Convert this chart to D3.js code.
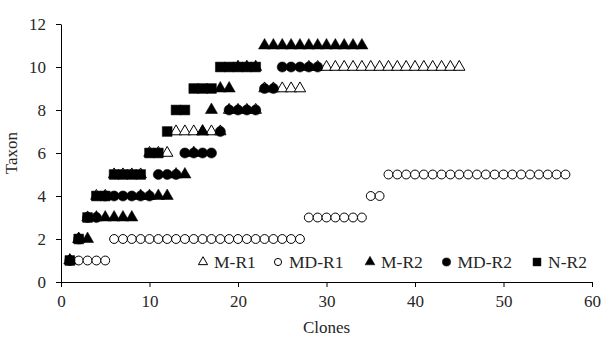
<!DOCTYPE html>
<html>
<head>
<meta charset="utf-8">
<script src="https://cdn.jsdelivr.net/npm/d3@7"></script>
<style>
  body { margin: 0; background: #fff; }
  text { font-family: "Liberation Serif", "Times New Roman", serif; fill: #262626; }
</style>
</head>
<body>
<div id="chart"></div>
<script>
// taxon count for clone 1..N of each library
const mR1 = [1, 2, 3, 4, 4, 5, 5, 5, 5, 6, 6, 6, 7, 7, 7, 7, 7, 7, 8, 8, 8, 8, 9, 9, 9, 9, 9,
  10, 10, 10, 10, 10, 10, 10, 10, 10, 10, 10, 10, 10, 10, 10, 10, 10, 10];
const mdR1 = [1, 1, 1, 1, 1, 2, 2, 2, 2, 2, 2, 2, 2, 2, 2, 2, 2, 2, 2, 2, 2, 2, 2, 2, 2, 2, 2,
  3, 3, 3, 3, 3, 3, 3, 4, 4, 5, 5, 5, 5, 5, 5, 5, 5, 5, 5, 5, 5, 5, 5, 5, 5, 5, 5, 5, 5, 5];
const mR2 = [1, 2, 2, 3, 3, 3, 3, 3, 4, 4, 4, 4, 5, 5, 6, 7, 8, 9, 9, 10, 10, 10,
  11, 11, 11, 11, 11, 11, 11, 11, 11, 11, 11, 11];
const mdR2 = [1, 2, 3, 3, 4, 4, 4, 4, 4, 4, 5, 5, 5, 6, 6, 6, 6, 7, 8, 8, 8, 8, 9, 9,
  10, 10, 10, 10, 10];
const nR2 = [1, 2, 3, 4, 4, 5, 5, 5, 5, 6, 6, 7, 8, 8, 9, 9, 9, 10, 10, 10, 10, 10];

const seriesNames = ["M-R1", "MD-R1", "M-R2", "MD-R2", "N-R2"];
const xTicks = [0, 10, 20, 30, 40, 50, 60];
const yTicks = [0, 2, 4, 6, 8, 10, 12];

const series = [
  { name: seriesNames[0], values: mR1, shape: d3.symbolTriangle, size: 56, open: true },
  { name: seriesNames[1], values: mdR1, shape: d3.symbolCircle, size: 62, open: true },
  { name: seriesNames[2], values: mR2, shape: d3.symbolTriangle, size: 64, open: false },
  { name: seriesNames[3], values: mdR2, shape: d3.symbolCircle, size: 82, open: false },
  { name: seriesNames[4], values: nR2, shape: d3.symbolSquare, size: 96, open: false }
];

const width = 602, height = 338;
const margin = { top: 24, right: 10, bottom: 56, left: 61 };

const svg = d3.select("#chart").append("svg")
  .attr("width", width)
  .attr("height", height);

const x = d3.scaleLinear().domain([0, 60]).range([margin.left, 592]);
const y = d3.scaleLinear().domain([0, 12]).range([282, margin.top]);

// axes
const xAxis = svg.append("g")
  .attr("transform", "translate(0,282)")
  .call(d3.axisBottom(x).tickValues(xTicks).tickSize(5).tickPadding(8).tickSizeOuter(0));
const yAxis = svg.append("g")
  .attr("transform", "translate(" + margin.left + ",0)")
  .call(d3.axisLeft(y).tickValues(yTicks).tickSize(5).tickPadding(10).tickSizeOuter(0));

[xAxis, yAxis].forEach(a => {
  a.select(".domain").attr("stroke", "#000").attr("stroke-width", 1);
  a.selectAll(".tick line").attr("stroke", "#000");
  a.selectAll(".tick text")
    .style("font-family", '"Liberation Serif", "Times New Roman", serif')
    .style("font-size", "17px")
    .attr("fill", "#262626");
});

// axis titles
svg.append("text")
  .attr("x", (x(0) + x(60)) / 2)
  .attr("y", 333)
  .attr("text-anchor", "middle")
  .style("font-size", "17px")
  .text("Clones");
svg.append("text")
  .attr("transform", "translate(17,153) rotate(-90)")
  .attr("text-anchor", "middle")
  .style("font-size", "17px")
  .text("Taxon");

// markers, drawn in legend order so later series sit on top
series.forEach(s => {
  const sym = d3.symbol().type(s.shape).size(s.size);
  svg.append("g")
    .selectAll("path")
    .data(s.values.map((v, i) => ({ clone: i + 1, taxon: v })))
    .enter()
    .append("path")
    .attr("d", sym)
    .attr("transform", d => "translate(" + x(d.clone) + "," + y(d.taxon) + ")")
    .attr("fill", s.open ? "#fff" : "#000")
    .attr("stroke", "#000")
    .attr("stroke-width", s.open ? 1 : 0.5);
});

// legend
const legendX = [203, 278, 370, 446.5, 537];
const legend = svg.append("g");
series.forEach((s, i) => {
  const g = legend.append("g").attr("transform", "translate(" + legendX[i] + ",262)");
  g.append("path")
    .attr("d", d3.symbol().type(s.shape).size(s.size * 0.65))
    .attr("fill", s.open ? "#fff" : "#000")
    .attr("stroke", "#000")
    .attr("stroke-width", s.open ? 1 : 0.5);
  g.append("text")
    .attr("x", 11)
    .attr("y", 6)
    .style("font-size", "17.5px")
    .text(s.name);
});
</script>
</body>
</html>
